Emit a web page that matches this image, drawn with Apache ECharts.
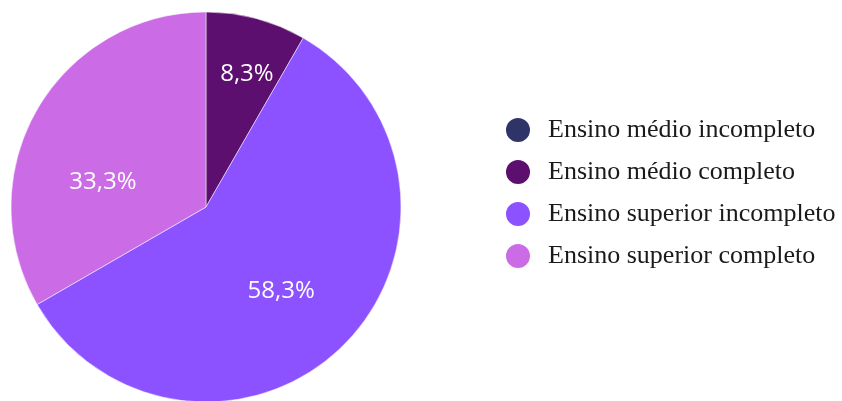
<!DOCTYPE html>
<html><head><meta charset="utf-8">
<script src="https://cdn.jsdelivr.net/npm/echarts@6/dist/echarts.min.js"></script>
<style>html,body{margin:0;padding:0;background:#fff;}#c{width:842px;height:401px;}</style>
</head><body><div id="c"></div>
<script>
const categories = ['Ensino médio incompleto','Ensino médio completo','Ensino superior incompleto','Ensino superior completo'];
const values = [0, 8.3, 58.3, 33.3];
const colors = ['#2f3468','#5c0f6e','#8c52ff','#cb6ce6'];
const labelOffsets = [[0,0],[15,-36],[4,13],[-16,25]];

const chart = echarts.init(document.getElementById('c'));
chart.setOption({
  animation: false,
  color: colors,
  legend: {
    orient: 'vertical', left: 499, top: 111,
    icon: 'circle', itemWidth: 26, itemHeight: 26, itemGap: 14,
    textStyle: { fontFamily: 'Liberation Serif', fontSize: 26, color: '#1a1a1a', padding: [0,0,0,12] },
    data: categories
  },
  series: [{
    type: 'pie',
    center: [206, 207],
    radius: [0, 195],
    startAngle: 90,
    clockwise: true,
    itemStyle: { borderColor: '#fff', borderWidth: 0.5 },
    label: {
      position: 'inside',
      fontFamily: 'Open Sans', fontSize: 24, color: '#fff',
      formatter: p => p.value.toFixed(1).replace('.', ',') + '%'
    },
    labelLine: { show: false },
    data: categories.map((n, i) => ({
      name: n, value: values[i],
      label: { show: values[i] > 0, offset: labelOffsets[i] }
    }))
  }]
});
</script></body></html>
